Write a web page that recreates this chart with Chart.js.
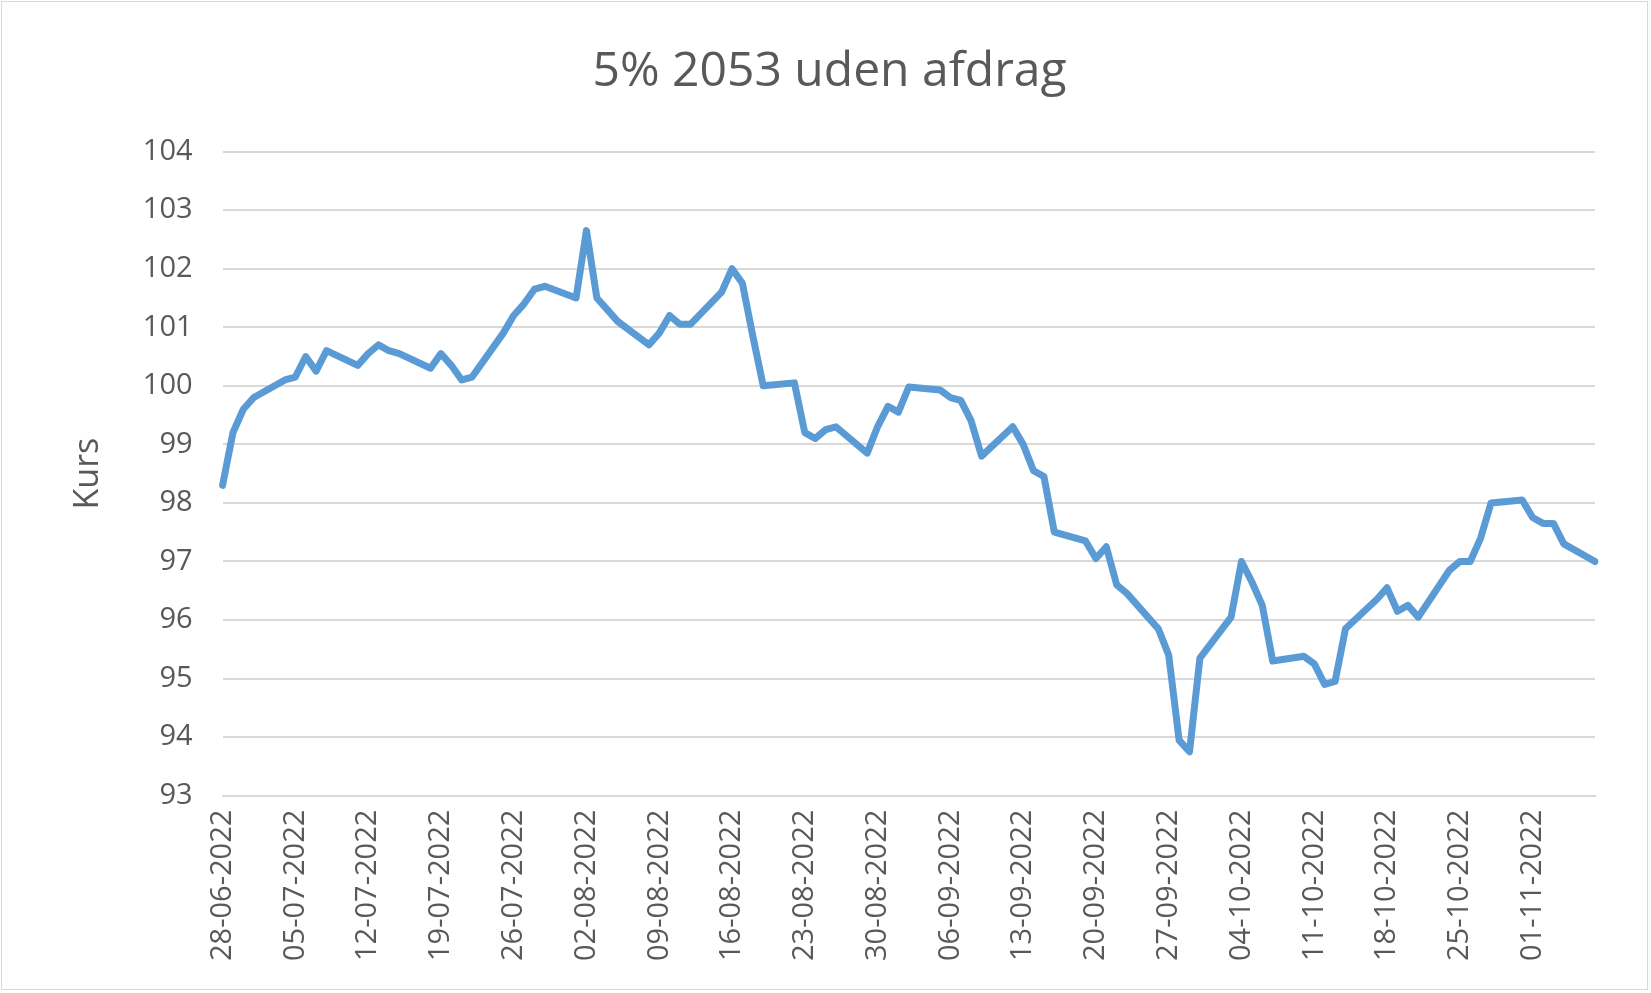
<!DOCTYPE html>
<html><head><meta charset="utf-8">
<script src="https://cdn.jsdelivr.net/npm/chart.js@4"></script>
<style>
html,body{margin:0;padding:0;background:#fff;}
#wrap{position:absolute;left:1px;top:1px;width:1647px;height:989px;border:1px solid #d9d9d9;box-sizing:border-box;}
canvas{display:block;}
</style></head>
<body><div id="wrap"><canvas id="c"></canvas></div>
<script>
const title = "5% 2053 uden afdrag";
const yTitle = "Kurs";
const tickLabels = ["28-06-2022","05-07-2022","12-07-2022","19-07-2022","26-07-2022","02-08-2022","09-08-2022","16-08-2022","23-08-2022","30-08-2022","06-09-2022","13-09-2022","20-09-2022","27-09-2022","04-10-2022","11-10-2022","18-10-2022","25-10-2022","01-11-2022"];
// one entry per calendar day from 28-06-2022 (Tue); null = no quote (weekend)
const kurs = [
  98.3, 99.2, 99.6, 99.8, null, null,
  100.1, 100.15, 100.5, 100.25, 100.6, null, null,
  100.35, 100.55, 100.7, 100.6, 100.55, null, null,
  100.3, 100.55, 100.35, 100.1, 100.15, null, null,
  100.9, 101.2, 101.4, 101.65, 101.7, null, null,
  101.5, 102.65, 101.5, 101.3, 101.1, null, null,
  100.7, 100.9, 101.2, 101.05, 101.05, null, null,
  101.6, 102.0, 101.75, 100.85, 100.0, null, null,
  100.05, 99.2, 99.1, 99.25, 99.3, null, null,
  98.85, 99.3, 99.65, 99.55, 99.98, null, null,
  99.93, 99.8, 99.75, 99.4, 98.8, null, null,
  99.3, 99.0, 98.55, 98.45, 97.5, null, null,
  97.35, 97.05, 97.25, 96.6, 96.45, null, null,
  95.85, 95.4, 93.95, 93.75, 95.35, null, null,
  96.05, 97.0, 96.65, 96.25, 95.3, null, null,
  95.38, 95.25, 94.9, 94.95, 95.85, null, null,
  96.35, 96.55, 96.15, 96.25, 96.05, null, null,
  96.85, 97.0, 97.0, 97.4, 98.0, null, null,
  98.05, 97.75, 97.65, 97.65, 97.3, null, null,
  97.0
];
const labels = kurs.map((v,i)=> i%7===0 ? (tickLabels[i/7]||"") : "");
const font = "'Open Sans', 'Liberation Sans', sans-serif";
const grey = "#595959";
new Chart(document.getElementById('c'), {
  type:'line',
  data:{labels, datasets:[{data:kurs, borderColor:'#5b9bd5', borderWidth:7, pointRadius:0, spanGaps:true, tension:0, borderJoinStyle:'round', borderCapStyle:'round'}]},
  options:{
    responsive:true, maintainAspectRatio:false, animation:false,
    layout:{padding:{left:62,right:52,top:22,bottom:22}},
    plugins:{legend:{display:false}, tooltip:{enabled:false},
      title:{display:true, text:title, color:grey, font:{family:font,size:48,weight:'normal'}, padding:{top:20,bottom:50}}},
    scales:{
      x:{offset:false, grid:{display:false}, border:{color:'#d9d9d9',width:2},
        ticks:{autoSkip:false, maxRotation:90, minRotation:90, color:grey, font:{family:font,size:29}, padding:6,
          callback:(v,i)=>labels[i]}},
      y:{min:93,max:104, border:{display:false}, grid:{color:'#d9d9d9',lineWidth:2, drawTicks:false},
        ticks:{stepSize:1, color:grey, font:{family:font,size:29}, padding:30},
        title:{display:true,text:yTitle,color:grey,font:{family:font,size:34}, padding:{bottom:4}}}
    }
  }
});
</script></body></html>
